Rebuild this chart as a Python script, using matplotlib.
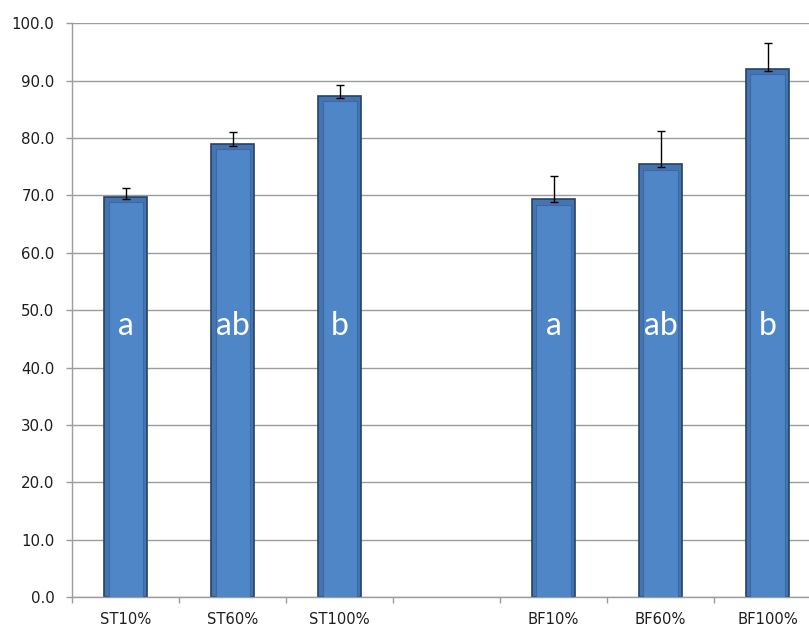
import matplotlib
matplotlib.use("Agg")
import matplotlib.pyplot as plt
import numpy as np

# datos
categorias = ["ST10%", "ST60%", "ST100%", "", "BF10%", "BF60%", "BF100%"]
medias = [69.7, 79.0, 87.4, np.nan, 69.3, 75.4, 92.1]
errores = [1.6, 2.1, 1.8, np.nan, 4.0, 5.8, 4.4]
letras = ["a", "ab", "b", "", "a", "ab", "b"]

plt.rcParams['font.family'] = ['DejaVu Sans']

fig = plt.figure(figsize=(8.09, 6.27), dpi=100)
ax = fig.add_axes([72.3 / 809, 1 - 597 / 627, (821 - 72.3) / 809, (597 - 23.3) / 627])

x = np.arange(len(categorias))
ancho = 0.4
gris = '#9c9c9c'

for i in range(len(x)):
    if np.isnan(medias[i]):
        continue
    # barra exterior (borde oscuro)
    ax.bar(x[i], medias[i], width=ancho, color='#4574ae', edgecolor='#22436b', linewidth=1.2, zorder=2)
    # interior mas claro para imitar el bisel
    ax.bar(x[i], medias[i] - 0.9, width=ancho * 0.8, color='#4f86c8', edgecolor='#3a6aa2', linewidth=0.8, zorder=3)
    ax.errorbar(x[i], medias[i] - 0.4, yerr=[[0], [errores[i] + 0.4]], fmt='none', ecolor='black',
                elinewidth=1.0, capsize=2.6, capthick=1.0, zorder=4)
    ax.text(x[i], 47.3, letras[i], color='white', fontsize=23, ha='center', va='center',
            family=['Lato', 'DejaVu Sans'], zorder=5)

ax.set_xlim(-0.5, len(categorias) - 0.5)
ax.set_ylim(0, 100)
ax.set_yticks(np.arange(0, 101, 10))
ax.set_yticklabels([f"{v:.1f}" for v in np.arange(0, 101, 10)], fontsize=10.8, color='#1e1e1e')
ax.yaxis.grid(True, color=gris, linewidth=1.0, zorder=0)
ax.set_axisbelow(True)

ax.set_xticks(x)
ax.set_xticklabels(categorias, fontsize=10.6, color='#1e1e1e')
ax.set_xticks(np.arange(-0.5, len(categorias), 1), minor=True)
ax.tick_params(axis='x', which='major', length=0, pad=11)
ax.tick_params(axis='x', which='minor', length=4.3, color=gris, width=1)
ax.tick_params(axis='y', length=4.3, color=gris, width=1, pad=8.5)

for lado in ['top', 'right']:
    ax.spines[lado].set_visible(False)
for lado in ['left', 'bottom']:
    ax.spines[lado].set_color(gris)
    ax.spines[lado].set_linewidth(1.0)

plt.savefig("out.png", dpi=100)
